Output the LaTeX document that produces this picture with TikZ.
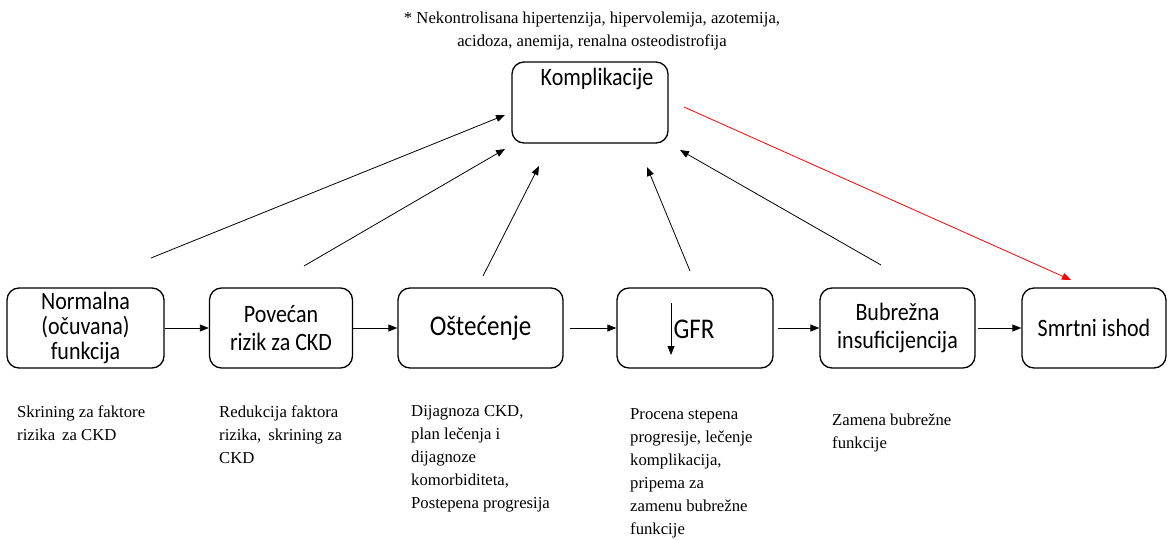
\documentclass[tikz,border=0pt]{standalone}
\usepackage{fontspec}
\setmainfont{Liberation Serif}
\newfontfamily\boxfont[FakeStretch=0.88]{Carlito}
\newfontfamily\capfont{Liberation Serif}
\usetikzlibrary{arrows.meta}
\begin{document}
\begin{tikzpicture}[x=1pt,y=-1pt,
  stage/.style={draw, line width=1.3pt, rounded corners=12pt, minimum height=80pt, inner sep=2pt, align=center, font=\boxfont\fontsize{25}{28}\selectfont},
  bigtxt/.style={font=\boxfont\fontsize{28.5}{30}\selectfont},
  captxt/.style={anchor=north west, inner sep=0pt, align=left, font=\capfont\fontsize{16.7}{23}\selectfont},
  arr/.style={-{Triangle[length=9pt,width=7pt]}, line width=0.8pt},
]
\useasboundingbox (0,0) rectangle (1170,540);

% main row
\node[stage, minimum width=157pt, font=\boxfont\fontsize{25}{25}\selectfont] (n1) at (85.5,328) {Normalna\\(očuvana)\\funkcija};
\node[stage, minimum width=143pt] (n2) at (281,328) {Povećan\\rizik za CKD};
\node[stage, minimum width=165pt, bigtxt] (n3) at (480.5,328) {Oštećenje};
\node[stage, minimum width=156pt] (n4) at (695,328) {};
\node[bigtxt] (gfr) at (694,329) {GFR};
\node[stage, minimum width=155pt] (n5) at (897.5,328) {Bubrežna\\insuficijencija};
\node[stage, minimum width=144pt] (n6) at (1094,328) {Smrtni ishod};

% complications
\node[stage, minimum width=156pt, minimum height=81pt] (k) at (590,102.5) {};
\node[font=\boxfont\fontsize{25}{28}\selectfont] (ktxt) at (597,79) {Komplikacije};

% top note
\node[anchor=north, inner sep=0pt, align=center, font=\capfont\fontsize{16.7}{23}\selectfont] (note) at (592,11.4)
  {* Nekontrolisana hipertenzija, hipervolemija, azotemija,\\acidoza, anemija, renalna osteodistrofija};

% GFR down arrow
\draw[arr] ([xshift=-24pt,yshift=25pt]n4.center) -- ([xshift=-24pt,yshift=-27pt]n4.center);

% horizontal arrows
\draw[arr] (n1) -- (n2);
\draw[arr] (n2) -- (n3);
\draw[arr, shorten <=6pt] (n3) -- (n4);
\draw[arr, shorten <=4pt] (n4) -- (n5);
\draw[arr, shorten <=2pt] (n5) -- (n6);

% arrows to complications
\coordinate (a1s) at (151,258); \coordinate (a1e) at (505,115);
\coordinate (a2s) at (304,266); \coordinate (a2e) at (505,149);
\coordinate (a3s) at (483,276); \coordinate (a3e) at (539,166);
\coordinate (a4s) at (690,271); \coordinate (a4e) at (647,167);
\coordinate (a5s) at (881,265); \coordinate (a5e) at (680,150);
\coordinate (rs) at (684,107); \coordinate (re) at (1071,280);
\draw[arr] (a1s) -- (a1e);
\draw[arr] (a2s) -- (a2e);
\draw[arr] (a3s) -- (a3e);
\draw[arr] (a4s) -- (a4e);
\draw[arr] (a5s) -- (a5e);
\draw[arr, red] (rs) -- (re);

% captions
\node[captxt] (t1) at (17,405.5) {Skrining za faktore\\rizika\, za CKD};
\node[captxt] (t2) at (219,405.5) {Redukcija faktora\\rizika,\, skrining za\\CKD};
\node[captxt] (t3) at (411,405.5) {Dijagnoza CKD,\\plan lečenja i\\dijagnoze\\komorbiditeta,\\Postepena progresija};
\node[captxt] (t4) at (630,408.5) {Procena stepena\\progresije, lečenje\\komplikacija,\\pripema za\\zamenu bubrežne\\funkcije};
\node[captxt] (t5) at (832,413.5) {Zamena bubrežne\\funkcije};
\end{tikzpicture}
\end{document}
